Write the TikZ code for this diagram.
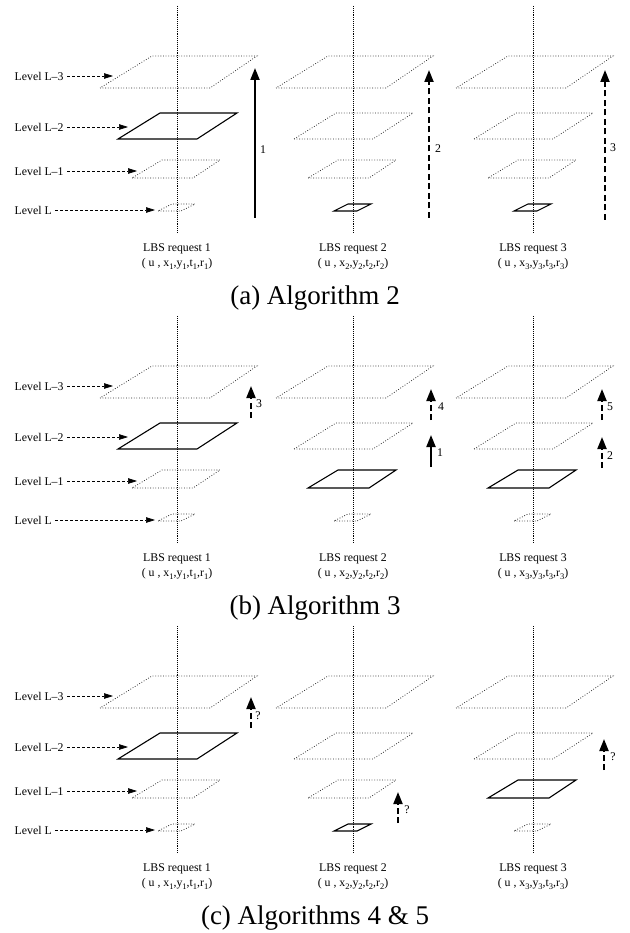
\documentclass[tikz,border=0pt]{standalone}
\usepackage{fontspec}
\setmainfont{Liberation Serif}
\usetikzlibrary{arrows.meta}
\newcommand{\lsub}[1]{\raisebox{-0.5ex}{\fontsize{8.5}{9}\selectfont #1}}

\begin{document}
\begin{tikzpicture}[x=1pt, y=-1pt, every node/.style={font=\fontsize{11.8}{13}\selectfont, inner sep=1.5pt},
    dotplane/.style={draw=black!85, line width=0.75pt, dash pattern=on 0.8pt off 1.8pt},
    solidplane/.style={draw=black, line width=1.1pt},
    axisline/.style={draw=black, line width=0.65pt, dash pattern=on 0.8pt off 1.1pt},
    lvlarrow/.style={-{Triangle[length=9pt,width=5.5pt]}, line width=0.7pt, dash pattern=on 3pt off 2pt, shorten <=2pt},
    solidup/.style={-{Triangle[length=12pt,width=9pt]}, line width=2pt},
    dashup/.style={-{Triangle[length=12pt,width=9pt]}, line width=2pt, dash pattern=on 6pt off 3.5pt},
    captext/.style={font=\fontsize{27}{30}\selectfont}]
    \useasboundingbox (0,0) rectangle (629,933);

    % planes, one solid level per request
    \foreach \cx/\py/\s in {177/0/2, 353/0/0, 533/0/0, 177/310/2, 353/310/1, 533/310/1, 177/620/2, 353/620/0, 533/620/1} {
        \foreach \n/\bl/\br/\tr/\tl/\yb/\yt in {3/-77/33/80/-25/88/56, 2/-59/20/60/-17/139/113, 1/-45/16/43/-15/178/160, 0/-19/4/18/-5/211/204} {
            \ifnum\n=\s \def\pstyle{solidplane}\else\def\pstyle{dotplane}\fi
            \draw[\pstyle] (\cx+\bl,\py+\yb) -- (\cx+\br,\py+\yb) -- (\cx+\tr,\py+\yt) -- (\cx+\tl,\py+\yt) -- cycle;
        }
        \draw[axisline] (\cx,\py+6) -- (\cx,\py+233);
    }

    % level labels and request texts
    \foreach \p/\py/\cap in {a/0/{(a) Algorithm 2}, b/310/{(b) Algorithm 3}, c/620/{(c) Algorithms 4 \& 5}} {
        \foreach \i/\lname/\ly/\tx in {3/L–3/76/113, 2/L–2/127/128, 1/L–1/171/137, 0/L/210/155} {
            \node[anchor=west] (lvl\p\i) at (13,\py+\ly) {Level \lname};
            \coordinate (tip\p\i) at (\tx,\py+\ly);
            \draw[lvlarrow] (lvl\p\i) -- (tip\p\i);
        }
        \foreach \k/\cx in {1/177, 2/353, 3/533} {
            \node (req\p\k) at (\cx,\py+249) {LBS request \k};
            \node (tup\p\k) at (\cx,\py+264) {( u , x\lsub{\k},y\lsub{\k},t\lsub{\k},r\lsub{\k})};
        }
        \node[captext] (cap\p) at (315,\py+298) {\cap};
    }

    % (a) Algorithm 2
    \coordinate (a1s) at (255,218); \coordinate (a1e) at (255,68);
    \coordinate (a2s) at (429,218); \coordinate (a2e) at (429,70);
    \coordinate (a3s) at (605,220); \coordinate (a3e) at (605,70);
    \draw[solidup] (a1s) -- (a1e);
    \draw[dashup] (a2s) -- (a2e);
    \draw[dashup] (a3s) -- (a3e);
    \node (na1) at (263,150) {1};
    \node (na2) at (438,149) {2};
    \node (na3) at (613,148) {3};

    % (b) Algorithm 3
    \coordinate (b3s) at (251,418); \coordinate (b3e) at (251,386);
    \coordinate (b4s) at (431,420); \coordinate (b4e) at (431,389);
    \coordinate (b1s) at (431,467); \coordinate (b1e) at (431,435);
    \coordinate (b5s) at (602,420); \coordinate (b5e) at (602,389);
    \coordinate (b2s) at (602,468); \coordinate (b2e) at (602,437);
    \draw[dashup] (b3s) -- (b3e);
    \draw[dashup] (b4s) -- (b4e);
    \draw[solidup] (b1s) -- (b1e);
    \draw[dashup] (b5s) -- (b5e);
    \draw[dashup] (b2s) -- (b2e);
    \node (nb3) at (259,404) {3};
    \node (nb4) at (441,407) {4};
    \node (nb1) at (440,453) {1};
    \node (nb5) at (610,407) {5};
    \node (nb2) at (610,456) {2};

    % (c) Algorithms 4 & 5
    \coordinate (c1s) at (251,728); \coordinate (c1e) at (251,697);
    \coordinate (c2s) at (398,823); \coordinate (c2e) at (398,792);
    \coordinate (c3s) at (604,770); \coordinate (c3e) at (604,739);
    \draw[dashup] (c1s) -- (c1e);
    \draw[dashup] (c2s) -- (c2e);
    \draw[dashup] (c3s) -- (c3e);
    \node (nc1) at (258,716) {?};
    \node (nc2) at (407,810) {?};
    \node (nc3) at (613,757) {?};
\end{tikzpicture}
\end{document}
